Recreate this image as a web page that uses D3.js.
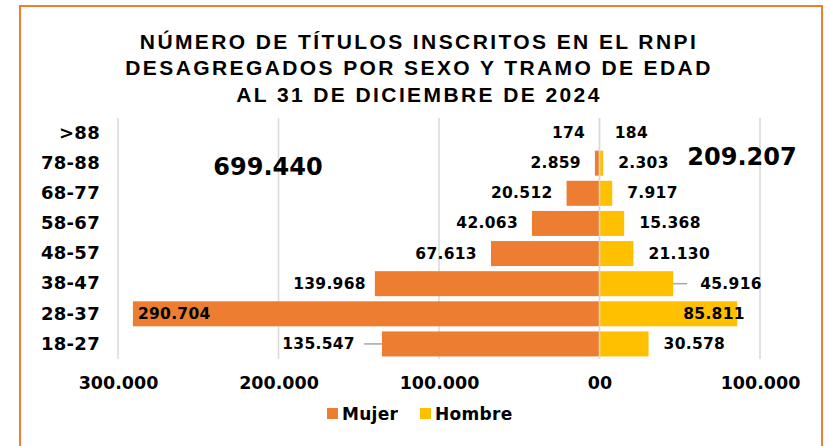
<!DOCTYPE html>
<html><head><meta charset="utf-8">
<script src="https://cdn.jsdelivr.net/npm/d3@7"></script>
<style>
html,body{margin:0;padding:0;background:#fff;}
svg{display:block;}
</style></head>
<body>
<svg id="chart" width="827" height="446"></svg>
<script>
const categories = [">88","78-88","68-77","58-67","48-57","38-47","28-37","18-27"];
const mujer  = [174, 2859, 20512, 42063, 67613, 139968, 290704, 135547];
const hombre = [184, 2303, 7917, 15368, 21130, 45916, 85811, 30578];
const tickValues = [-300000, -200000, -100000, 0, 100000];
const tickLabels = ["300.000","200.000","100.000","00","100.000"];
const titleLines = ["NÚMERO DE TÍTULOS INSCRITOS EN EL RNPI","DESAGREGADOS POR SEXO Y TRAMO DE EDAD","AL 31 DE DICIEMBRE DE 2024"];
const seriesNames = ["Mujer","Hombre"];

const colors = {Mujer:"#ED7D31", Hombre:"#FFC000"};
const locale = d3.formatLocale({decimal:",", thousands:".", grouping:[3], currency:["",""]});
const fmt = locale.format(",d");
const numFont = "'DejaVu Sans', Verdana, sans-serif";

const svg = d3.select("#chart");
// border
svg.append("rect").attr("x",20).attr("y",6).attr("width",802).attr("height",460)
  .attr("fill","none").attr("stroke","#ED7D31").attr("stroke-width",2);

// title
svg.append("g").selectAll("text").data(titleLines).join("text")
  .attr("x",419).attr("y",(d,i)=>41+i*26.5)
  .attr("text-anchor","middle").attr("dominant-baseline","central")
  .attr("font-family","'Liberation Sans', Arial, sans-serif").attr("font-weight","bold")
  .attr("font-size",21).attr("letter-spacing",2.4).attr("fill","#000").text(d=>d);

const x = d3.scaleLinear().domain([-300000,100000]).range([118,760]);
const y = d3.scaleBand().domain(categories).range([118,359]).paddingInner(0.17).paddingOuter(0.085);

// gridlines
svg.append("g").selectAll("line").data(tickValues).join("line")
  .attr("x1",d=>x(d)).attr("x2",d=>x(d)).attr("y1",118).attr("y2",359)
  .attr("stroke","#d9d9d9").attr("stroke-width",1.5);

// x axis labels via d3 axis
const xAxis = d3.axisBottom(x).tickValues(tickValues).tickSize(0).tickPadding(0)
  .tickFormat((d,i)=>tickLabels[i]);
const ax = svg.append("g").attr("transform","translate(0,376)").call(xAxis);
ax.select(".domain").remove();
ax.selectAll("text").attr("font-family",numFont).attr("font-weight","bold")
  .attr("font-size",17.5).attr("fill","#000").attr("dy","0.72em");

// y labels via d3 axis
const yAxis = d3.axisLeft(y).tickSize(0).tickPadding(0);
const ay = svg.append("g").attr("transform","translate(100,0)").call(yAxis);
ay.select(".domain").remove();
ay.selectAll("text").attr("font-family",numFont).attr("font-weight","bold")
  .attr("font-size",18).attr("fill","#000").attr("letter-spacing",0.3);

const rows = categories.map((c,i)=>({cat:c, m:mujer[i], h:hombre[i], i}));

// bars
svg.append("g").selectAll("rect").data(rows).join("rect")
  .attr("x",d=>x(-d.m)).attr("width",d=>x(0)-x(-d.m))
  .attr("y",d=>y(d.cat)).attr("height",y.bandwidth()).attr("fill",colors.Mujer);
svg.append("g").selectAll("rect").data(rows).join("rect")
  .attr("x",x(0)).attr("width",d=>x(d.h)-x(0))
  .attr("y",d=>y(d.cat)).attr("height",y.bandwidth()).attr("fill",colors.Hombre);

// zero line
svg.append("line").attr("x1",x(0)).attr("x2",x(0)).attr("y1",118).attr("y2",359)
  .attr("stroke","#d9d9d9").attr("stroke-width",1.5);

const cy = d=>y(d.cat)+y.bandwidth()/2;
const maxM = d3.max(mujer), maxH = d3.max(hombre);
const leaderM = "18-27", leaderH = "38-47";

// Mujer labels
const gm = svg.append("g");
rows.forEach(d=>{
  let xe, anchor="end";
  if (d.m===maxM){ xe = x(-d.m)+5; anchor="start"; }
  else if (d.cat===leaderM){
    xe = x(-d.m)-27;
    gm.append("line").attr("x1",xe+9).attr("x2",x(-d.m)).attr("y1",cy(d)).attr("y2",cy(d))
      .attr("stroke","#a6a6a6").attr("stroke-width",1.5);
  }
  else if (d.cat==="38-47"){ xe = x(-d.m)-9; }
  else xe = x(-d.m)-14;
  gm.append("text").attr("x",xe).attr("y",cy(d)).attr("text-anchor",anchor)
    .attr("dominant-baseline","central").attr("font-family",numFont).attr("font-weight","bold")
    .attr("font-size",15.5).attr("letter-spacing",0.3).attr("fill","#000").text(fmt(d.m));
});
// Hombre labels
const gh = svg.append("g");
rows.forEach(d=>{
  let xs;
  if (d.h===maxH){ xs = x(d.h)-54; }
  else if (d.cat===leaderH){
    xs = x(d.h)+27;
    gh.append("line").attr("x1",x(d.h)).attr("x2",xs-13).attr("y1",cy(d)).attr("y2",cy(d))
      .attr("stroke","#a6a6a6").attr("stroke-width",1.5);
  }
  else xs = x(d.h)+15;
  gh.append("text").attr("x",xs).attr("y",cy(d)).attr("text-anchor","start")
    .attr("dominant-baseline","central").attr("font-family",numFont).attr("font-weight","bold")
    .attr("font-size",15.5).attr("letter-spacing",0.3).attr("fill","#000").text(fmt(d.h));
});

// totals
svg.append("text").attr("x",268).attr("y",167).attr("text-anchor","middle")
  .attr("dominant-baseline","central").attr("font-family",numFont).attr("font-weight","bold")
  .attr("font-size",24).attr("fill","#000").text(fmt(d3.sum(mujer)));
svg.append("text").attr("x",742).attr("y",157).attr("text-anchor","middle")
  .attr("dominant-baseline","central").attr("font-family",numFont).attr("font-weight","bold")
  .attr("font-size",24).attr("fill","#000").text(fmt(d3.sum(hombre)));

// legend
const lg = svg.append("g");
const legX = [327, 420];
seriesNames.forEach((s,i)=>{
  lg.append("rect").attr("x",legX[i]).attr("y",408).attr("width",11).attr("height",11).attr("fill",colors[s]);
  lg.append("text").attr("x",legX[i]+15).attr("y",414).attr("dominant-baseline","central")
    .attr("font-family",numFont).attr("font-weight","bold").attr("font-size",17)
    .attr("letter-spacing",0.3).attr("fill","#000").text(s);
});
</script>
</body></html>
